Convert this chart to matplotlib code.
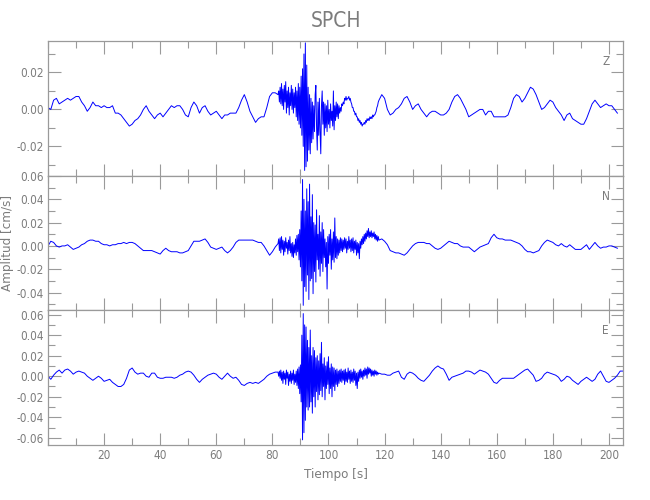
import numpy as np
import matplotlib
matplotlib.use("Agg")
import matplotlib.pyplot as plt
from matplotlib.ticker import MultipleLocator, FixedLocator, FormatStrFormatter

# ---------------- data (amplitudes in 1e-3 cm/s) ----------------
title = "SPCH"
components = ["Z", "N", "E"]

z_pre = [1, 0, 5, 6, 3, 4, 5, 6, 5, 6, 7, 7, 4, 2, -1, 1, 4, 2, 2, 1,
         2, 1, 1, 2, -2, -2, -3, -5, -7, -9, -8, -6, -5, -3, 0, 2, -1, -3, -5, -3,
         -2, -4, -2, 0, 2, 1, 2, 2, 0, -3, -4, 1, 4, 2, -2, 1, 2, -1, -3, -2,
         -1, -3, -5, -3, -3, -2, -2, -2, 1, 5, 8, 4, -1, -4, -7, -5, -4, -4, 1, 7,
         9, 9, 8]
z_strong = [10, 4, 12, 3, 14, 2, 11, 0, 13, 4, 15, -2, 10, 1, 12, -3,
            9, 2, 13, 0, 11, -2, 9, 1, 12, -4, 10, -6, 14, -8, 12, -10,
            18, -14, 22, -20, 30, -33, 36, -31, 24, -28, 12, -22, 8, -24, 6, -18,
            4, -16, 2, -12, 8, 13, -10, -22, 4, -14, 6, -12, -24, 2, 10, -8,
            4, -14, 3, -10, 2, -12, 5, -8, 0, -10, 3, -6, -1, -9, 10, -11,
            2, -6, 4, -4, 3, -5, 2, -2, 1, -1, 3, 2, 4, 3, 6, 5,
            7, 5, 6, 6, 7, 5, 6, 4, 3, 1, 1, -1, -1, -3, -2, -4,
            -4, -6, -5, -7, -6, -8, -7, -9, -8, -8, -7, -8, -6, -7, -5, -6,
            -5, -6, -4, -5, -4, -5, -3, -4, -3, -3, -2, -1, 1, 2, 4, 5]
z_post = [8, 6, 0, -3, -2, 0, 1, 3, 6, 7, 4, 0, 2, 3, 0, -2, -4, -2, -1, -1,
          -2, -3, -3, -2, 0, 4, 7, 8, 6, 3, 0, -4, -3, -2, -1, 0, 0, -3, -1, -1,
          -4, -4, -4, -4, -4, -3, 1, 6, 8, 7, 4, 6, 9, 12, 11, 8, 4, 0, 1, 3,
          5, 4, 1, -1, -3, -6, -3, -2, -5, -6, -7, -8, -8, -5, -1, 3, 5, 3, 1, 2,
          3, 2, 2, 0, -2]

n_pre = [0, 4, 3, 0, -1, 0, 0, 1, -1, -3, -2, -1, 1, 2, 4, 5, 5, 4, 4, 2,
         1, 1, 0, 1, 1, 2, 2, 3, 2, 3, 3, 2, 0, -2, -4, -4, -4, -4, -5, -6,
         -7, -4, -2, -4, -5, -5, -5, -6, -6, -5, -4, 0, 4, 4, 4, 5, 6, 3, -1, -2,
         -3, -2, -1, -4, -6, -4, -1, 3, 5, 5, 5, 5, 5, 5, 4, 3, 3, 0, -4, -8,
         -5, -1, 2]
n_strong = [6, -4, 7, -6, 8, -3, 5, -8, 4, -5, 7, -2, 3, -7, 5, -4,
            8, -6, 2, -9, 3, -10, 1, -6, 6, -8, 9, -5, 10, -12, 14, -18,
            30, -30, 57, -51, 40, -35, 30, -39, 49, -25, 38, -46, 53, -30, 25, -28,
            44, -41, 20, -22, 18, -31, 31, -12, 10, -20, 26, -26, 12, -15, 20, -22,
            14, -10, 6, -18, 3, -37, 8, -15, 10, -8, 14, -20, 6, -12, 12, -14,
            24, -10, 8, -11, 6, -8, 5, -6, 7, -4, 6, -5, 5, -3, 7, -2,
            6, -6, 4, -3, 8, -2, 5, -5, 6, -4, 7, -6, 4, -3, 5, -8,
            3, -6, 2, -11, 4, -2, 6, 1, 8, 2, 10, 4, 11, 6, 13, 8,
            15, 7, 12, 8, 13, 7, 11, 8, 12, 6, 10, 5, 9, 4, 8, 5]
n_post = [6, 4, 1, -4, -5, -6, -6, -7, -8, -6, -3, 0, 2, 3, 3, 3, 2, 2, 0, -2,
          -3, -2, 0, 2, 4, 3, 2, 2, 0, -1, -1, -1, -3, -5, -3, -1, 0, 1, 2, 7,
          10, 7, 6, 6, 5, 5, 5, 4, 3, 2, 0, -3, -5, -5, -6, -5, -4, 0, 3, 5,
          4, 3, 1, 0, 2, 0, -1, 1, -1, -3, -3, -3, -1, 1, -3, 0, 3, 0, -2, -1,
          -1, 0, 0, -1, -2]

e_pre = [0, -3, 1, 4, 6, 3, 6, 7, 5, 2, 4, 5, 4, 3, 0, -2, -4, -2, 0, -2,
         -5, -4, -3, -6, -8, -10, -10, -8, -2, 6, 8, 4, 2, 3, 3, 0, -1, 3, 3, -1,
         -2, -2, -1, -1, -1, -2, -1, 1, 2, 4, 5, 4, 1, -3, -6, -3, -1, 1, 2, 3,
         2, -1, -3, 0, 3, 0, -2, -1, -4, -8, -9, -7, -6, -7, -6, -7, -5, -3, 0, 2,
         3, 4, 4]
e_strong = [0, 5, -2, 6, -4, 4, -7, 5, -3, 3, -8, 6, -2, 4, -9, 2,
            -5, 5, -7, 3, -4, 6, -8, 2, -6, 5, -9, 7, -12, 9, -17, 11,
            -25, 40, -62, 61, -55, 50, -43, 48, -30, 35, -33, 28, -30, 45, -25, 20,
            -36, 28, -20, 25, -30, 18, -15, 20, -23, 15, -18, 22, -14, 33, -20, 12,
            -10, 18, -23, 10, -12, 14, -8, 19, -17, 8, -12, 12, -20, 9, -10, 8,
            -14, 6, -8, 7, -10, 5, -7, 6, -5, 7, -6, 5, -4, 6, -8, 7,
            -5, 4, -6, 8, -3, 5, -7, 6, -5, 4, -6, 7, -4, 5, -9, 3,
            -12, 4, -5, 6, -2, 7, -1, 5, -3, 6, 0, 8, 1, 7, -2, 9,
            2, 8, 3, 7, 0, 6, 1, 5, 0, 6, 2, 5, 1, 4, 2, 3]
e_post = [2, 2, 1, 1, 3, 4, 5, -1, -3, 2, 4, 3, 1, -2, -4, -5, -2, 1, 5, 8,
          10, 8, 7, 2, -4, -1, 0, 1, 2, 3, 5, 5, 4, 2, 4, 6, 5, 4, 2, -2,
          -6, -7, -4, -2, -2, -2, -2, -2, 0, 2, 4, 6, 7, 4, 1, -5, -4, -2, 2, 4,
          3, 2, 1, -1, -5, -3, 0, -1, -4, -6, -8, -5, -3, -1, -3, -5, -3, 2, 5, 0,
          -5, -6, -4, -2, 1, 5, 5]

traces = {"Z": (z_pre, z_strong, z_post),
          "N": (n_pre, n_strong, n_post),
          "E": (e_pre, e_strong, e_post)}
ylims = {"Z": (-0.036, 0.037), "N": (-0.055, 0.060), "E": (-0.067, 0.0645)}

x_ticks = [20, 40, 60, 80, 100, 120, 140, 160, 180, 200]


def build(pre, strong, post):
    t_pre = np.arange(len(pre), dtype=float)             # 1 s samples from 0 s
    t_str = 82 + 0.25 * np.arange(1, len(strong) + 1)    # 0.25 s samples
    t_post = 119 + np.arange(len(post), dtype=float)     # 1 s samples
    t = np.concatenate([t_pre, t_str, t_post])
    v = np.concatenate([pre, strong, post]) * 1e-3
    return t, v


# ---------------- style ----------------
txt = "#7c7c7c"
spine = "#9a9a9a"
plt.rcParams["font.family"] = ["DejaVu Sans"]
plt.rcParams["font.stretch"] = "condensed"

fig = plt.figure(figsize=(6.5, 5), dpi=100)
L, W = 48 / 650, 575 / 650
boxes = [(41, 176), (176, 310), (310, 445)]

for comp, (ytop, ybot) in zip(components, boxes):
    ax = fig.add_axes([L, 1 - ybot / 500, W, (ybot - ytop) / 500])
    t, v = build(*traces[comp])
    ax.plot(t, v, color="#0000ff", lw=0.7)
    ax.set_xlim(0, 205)
    ax.set_ylim(*ylims[comp])
    ax.xaxis.set_major_locator(FixedLocator(x_ticks))
    ax.xaxis.set_minor_locator(MultipleLocator(10))
    ax.yaxis.set_major_locator(MultipleLocator(0.02))
    ax.yaxis.set_minor_locator(MultipleLocator(0.01))
    ax.yaxis.set_major_formatter(FormatStrFormatter("%.2f"))
    ax.tick_params(which="both", direction="in", top=True, right=True,
                   color=spine, labelcolor=txt, labelsize=8.5, width=0.8)
    ax.tick_params(which="major", length=9, pad=3)
    ax.tick_params(which="minor", length=5)
    for s in ax.spines.values():
        s.set_color(spine)
        s.set_linewidth(0.9)
    if comp != "E":
        ax.tick_params(labelbottom=False)
    else:
        ax.set_xlabel("Tiempo [s]", color=txt, fontsize=9.5, labelpad=4)
    if comp == "N":
        ax.set_ylabel("Amplitud [cm/s]", color=txt, fontsize=9.5, labelpad=2)
    if comp == "Z":
        ax.set_title(title, color=txt, fontsize=15, pad=10)
    ax.text(0.97, 0.85, comp, transform=ax.transAxes, color=txt,
            fontsize=8.5, ha="center", va="center")

fig.savefig("out.png", dpi=100, facecolor="white")
